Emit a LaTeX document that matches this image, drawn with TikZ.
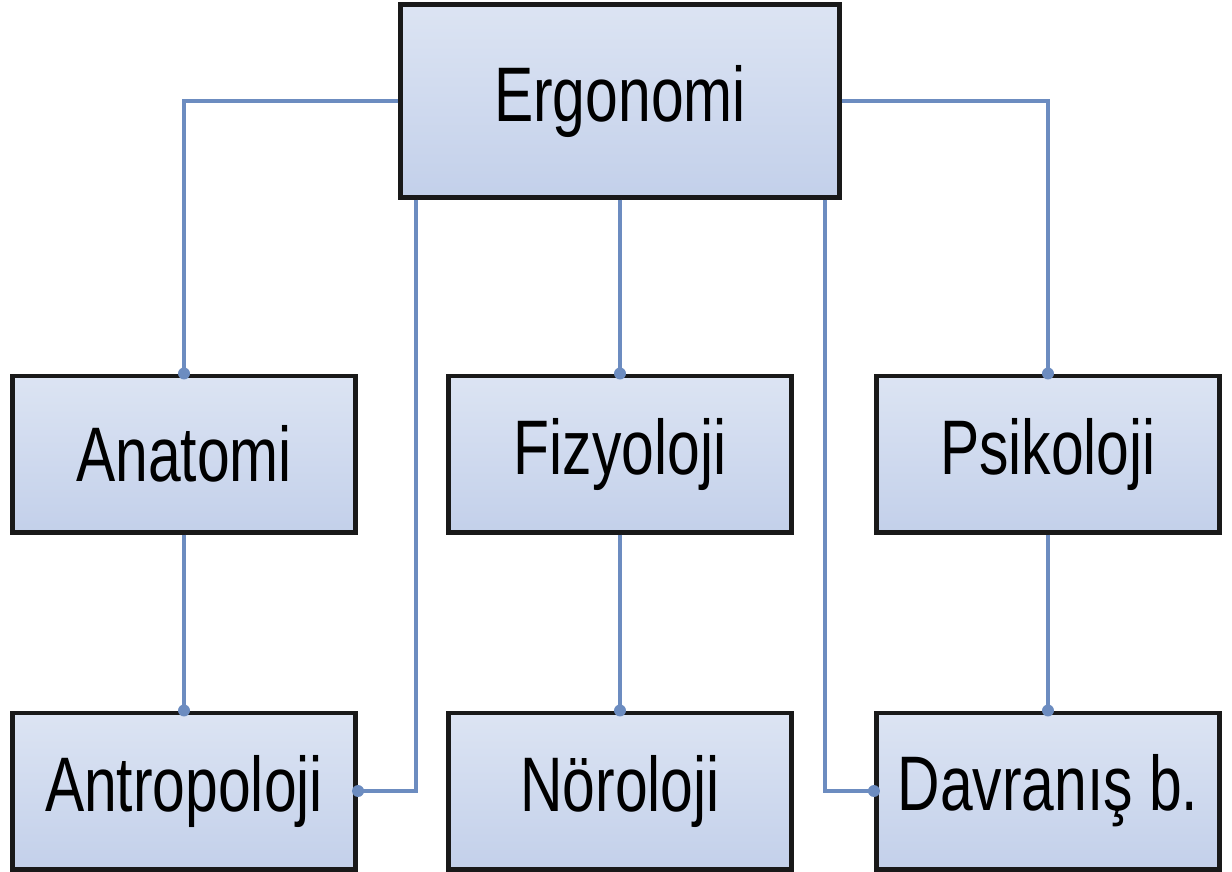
\documentclass[tikz,border=0pt]{standalone}
\usepackage{fontspec}
\setmainfont{Liberation Sans}[FakeStretch=0.76]
\definecolor{linkcol}{HTML}{6C8CC0}
\definecolor{boxtop}{HTML}{DCE4F3}
\definecolor{boxbot}{HTML}{C3D0EA}
\begin{document}
\begin{tikzpicture}[x=0.01cm, y=-0.01cm,
    box/.style={draw=black!90, line width=1.4pt, top color=boxtop, bottom color=boxbot,
                minimum width=3.43cm, minimum height=1.56cm, font=\fontsize{22}{26}\selectfont},
    link/.style={draw=linkcol, line width=1.1pt},
    dot/.style={circle, fill=linkcol, inner sep=1.2pt}]
    \useasboundingbox (0,0) rectangle (1232,872);
    \node[box, minimum width=4.38cm, minimum height=1.92cm] (erg) at (620,101) {Ergonomi};
    \node[box] (anat) at (184,454) {Anatomi};
    \node[box] (fiz) at (620,454) {Fizyoloji};
    \node[box] (psi) at (1048,454) {Psikoloji};
    \node[box] (antro) at (184,791) {Antropoloji};
    \node[box] (nor) at (620,791) {Nöroloji};
    \node[box] (dav) at (1048,791) {Davranış b.};

    \draw[link] (erg.west) -| (anat.north);
    \draw[link] (erg.east) -| (psi.north);
    \draw[link] (erg.south) -- (fiz.north);
    \draw[link] ([xshift=0.18cm]erg.south west) |- (antro.east);
    \draw[link] ([xshift=-0.17cm]erg.south east) |- (dav.west);
    \draw[link] (anat.south) -- (antro.north);
    \draw[link] (fiz.south) -- (nor.north);
    \draw[link] (psi.south) -- (dav.north);

    \node[dot] (d1) at (anat.north) {};
    \node[dot] (d2) at (fiz.north) {};
    \node[dot] (d3) at (psi.north) {};
    \node[dot] (d4) at (antro.north) {};
    \node[dot] (d5) at (nor.north) {};
    \node[dot] (d6) at (dav.north) {};
    \node[dot] (d7) at (antro.east) {};
    \node[dot] (d8) at (dav.west) {};
\end{tikzpicture}
\end{document}
